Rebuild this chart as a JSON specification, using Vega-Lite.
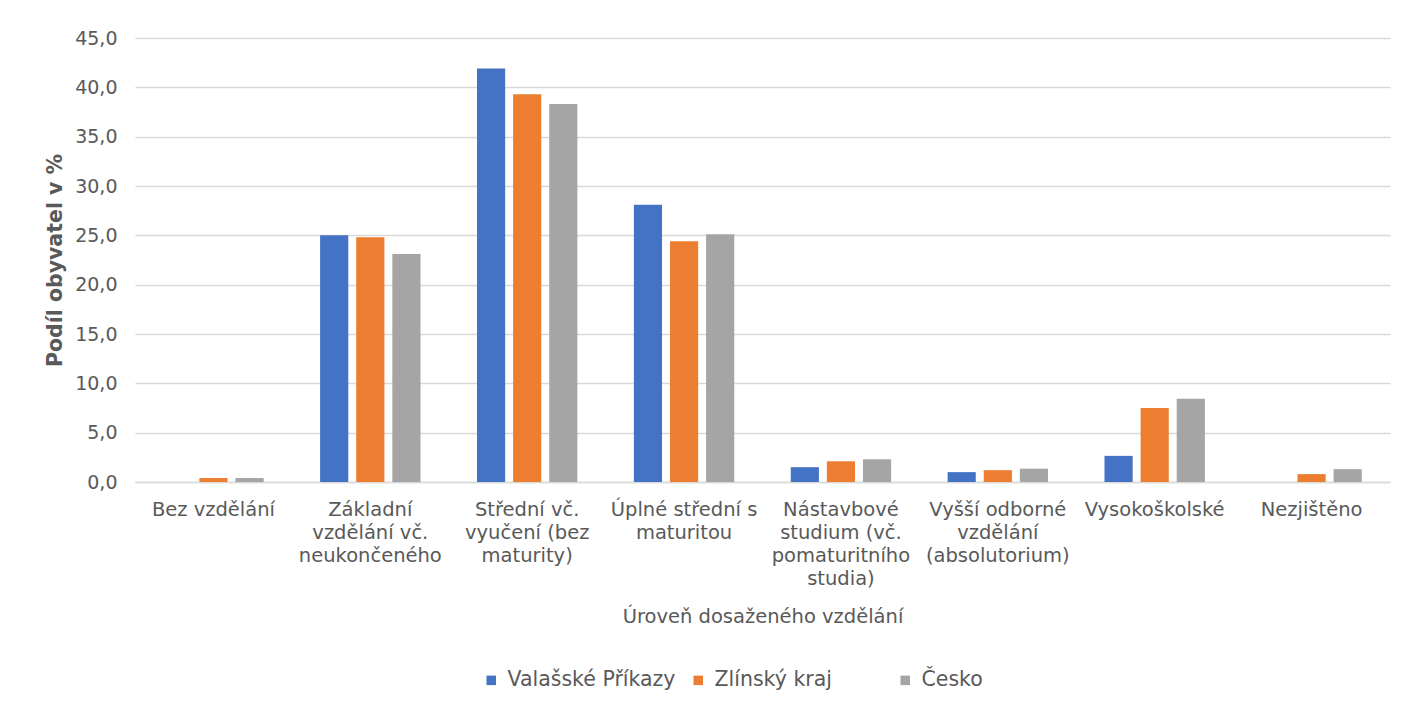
{
  "$schema": "https://vega.github.io/schema/vega-lite/v6.json",
  "width": 1255,
  "height": 444,
  "autosize": {"type": "none"},
  "padding": {"left": 135, "top": 38, "right": 17, "bottom": 226},
  "background": "white",
  "data": {
    "values": [
      {"kategorie": "Bez vzdělání", "uzemi": "Valašské Příkazy", "podil": 0},
      {"kategorie": "Bez vzdělání", "uzemi": "Zlínský kraj", "podil": 0.4},
      {"kategorie": "Bez vzdělání", "uzemi": "Česko", "podil": 0.4},
      {"kategorie": "Základní vzdělání vč. neukončeného", "uzemi": "Valašské Příkazy", "podil": 25.0},
      {"kategorie": "Základní vzdělání vč. neukončeného", "uzemi": "Zlínský kraj", "podil": 24.8},
      {"kategorie": "Základní vzdělání vč. neukončeného", "uzemi": "Česko", "podil": 23.1},
      {"kategorie": "Střední vč. vyučení (bez maturity)", "uzemi": "Valašské Příkazy", "podil": 41.9},
      {"kategorie": "Střední vč. vyučení (bez maturity)", "uzemi": "Zlínský kraj", "podil": 39.3},
      {"kategorie": "Střední vč. vyučení (bez maturity)", "uzemi": "Česko", "podil": 38.3},
      {"kategorie": "Úplné střední s maturitou", "uzemi": "Valašské Příkazy", "podil": 28.1},
      {"kategorie": "Úplné střední s maturitou", "uzemi": "Zlínský kraj", "podil": 24.4},
      {"kategorie": "Úplné střední s maturitou", "uzemi": "Česko", "podil": 25.1},
      {"kategorie": "Nástavbové studium (vč. pomaturitního studia)", "uzemi": "Valašské Příkazy", "podil": 1.5},
      {"kategorie": "Nástavbové studium (vč. pomaturitního studia)", "uzemi": "Zlínský kraj", "podil": 2.1},
      {"kategorie": "Nástavbové studium (vč. pomaturitního studia)", "uzemi": "Česko", "podil": 2.3},
      {"kategorie": "Vyšší odborné vzdělání (absolutorium)", "uzemi": "Valašské Příkazy", "podil": 1.0},
      {"kategorie": "Vyšší odborné vzdělání (absolutorium)", "uzemi": "Zlínský kraj", "podil": 1.2},
      {"kategorie": "Vyšší odborné vzdělání (absolutorium)", "uzemi": "Česko", "podil": 1.35},
      {"kategorie": "Vysokoškolské", "uzemi": "Valašské Příkazy", "podil": 2.65},
      {"kategorie": "Vysokoškolské", "uzemi": "Zlínský kraj", "podil": 7.5},
      {"kategorie": "Vysokoškolské", "uzemi": "Česko", "podil": 8.45},
      {"kategorie": "Nezjištěno", "uzemi": "Valašské Příkazy", "podil": 0},
      {"kategorie": "Nezjištěno", "uzemi": "Zlínský kraj", "podil": 0.8},
      {"kategorie": "Nezjištěno", "uzemi": "Česko", "podil": 1.3}
    ]
  },
  "mark": {"type": "bar"},
  "encoding": {
    "x": {
      "field": "kategorie",
      "type": "nominal",
      "sort": null,
      "scale": {"paddingInner": 0.36, "paddingOuter": 0.18},
      "axis": {
        "title": "Úroveň dosaženého vzdělání",
        "titleFont": "DejaVu Sans",
        "titleFontSize": 19.5,
        "titleFontWeight": "normal",
        "titleColor": "#595959",
        "titlePadding": 20,
        "labelAngle": 0,
        "labelFont": "DejaVu Sans",
        "labelFontSize": 19.5,
        "labelColor": "#595959",
        "labelLineHeight": 23,
        "labelPadding": 18,
        "labelLimit": 0,
        "ticks": false,
        "tickSize": 0,
        "domainColor": "#d9d9d9",
        "domainWidth": 1.5,
        "labelExpr": "datum.value == 'Základní vzdělání vč. neukončeného' ? ['Základní', 'vzdělání vč.', 'neukončeného'] : datum.value == 'Střední vč. vyučení (bez maturity)' ? ['Střední vč.', 'vyučení (bez', 'maturity)'] : datum.value == 'Úplné střední s maturitou' ? ['Úplné střední s', 'maturitou'] : datum.value == 'Nástavbové studium (vč. pomaturitního studia)' ? ['Nástavbové', 'studium (vč.', 'pomaturitního', 'studia)'] : datum.value == 'Vyšší odborné vzdělání (absolutorium)' ? ['Vyšší odborné', 'vzdělání', '(absolutorium)'] : datum.value"
      }
    },
    "xOffset": {
      "field": "uzemi",
      "type": "nominal",
      "sort": ["Valašské Příkazy", "Zlínský kraj", "Česko"],
      "scale": {"paddingInner": 0.22}
    },
    "y": {
      "field": "podil",
      "type": "quantitative",
      "scale": {"domain": [0, 45], "nice": false},
      "axis": {
        "title": "Podíl obyvatel v %",
        "titleFont": "DejaVu Sans",
        "titleFontSize": 20.5,
        "titleFontWeight": "bold",
        "titleColor": "#595959",
        "titlePadding": 9,
        "values": [0, 5, 10, 15, 20, 25, 30, 35, 40, 45],
        "labelExpr": "replace(format(datum.value, '.1f'), '.', ',')",
        "labelFont": "DejaVu Sans",
        "labelFontSize": 19,
        "labelColor": "#595959",
        "labelPadding": 18,
        "ticks": false,
        "tickSize": 0,
        "domain": false,
        "grid": true,
        "gridColor": "#d9d9d9",
        "gridWidth": 1.5
      }
    },
    "color": {
      "field": "uzemi",
      "type": "nominal",
      "sort": ["Valašské Příkazy", "Zlínský kraj", "Česko"],
      "scale": {
        "domain": ["Valašské Příkazy", "Zlínský kraj", "Česko"],
        "range": ["#4472C4", "#ED7D31", "#A5A5A5"]
      },
      "legend": {
        "title": null,
        "orient": "none",
        "legendX": 346,
        "legendY": 632,
        "direction": "horizontal",
        "gridAlign": "all",
        "symbolType": "square",
        "symbolSize": 90,
        "symbolStrokeWidth": 0,
        "labelFont": "DejaVu Sans",
        "labelFontSize": 20.5,
        "labelLimit": 0,
        "labelColor": "#595959",
        "columnPadding": 12,
        "labelOffset": 6
      }
    }
  },
  "config": {
    "view": {"stroke": null}
  }
}
